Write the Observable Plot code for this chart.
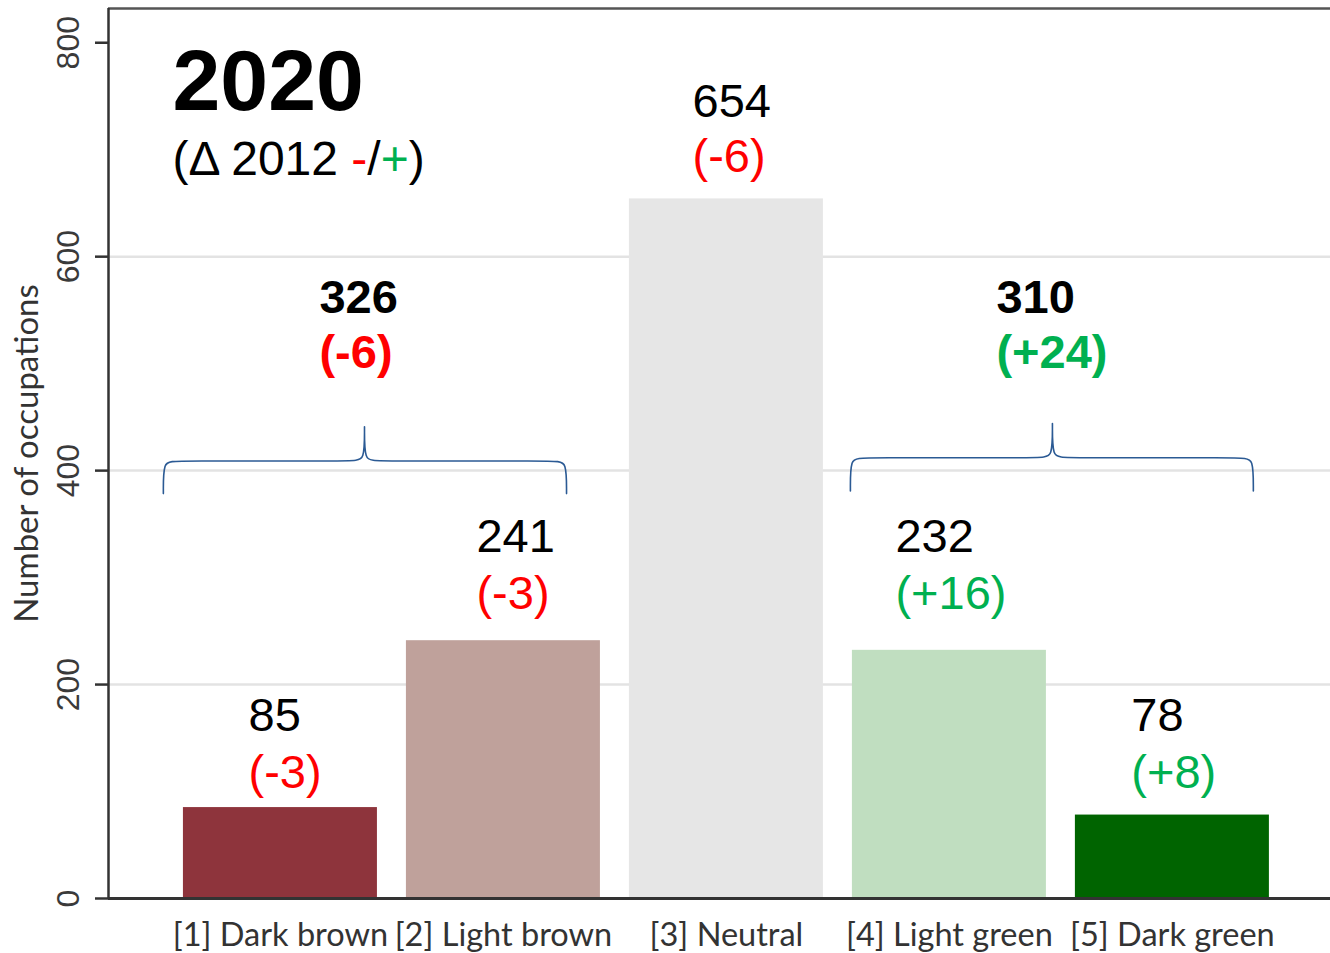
<!DOCTYPE html>
<html><head><meta charset="utf-8">
<script src="https://cdn.jsdelivr.net/npm/d3@7"></script>
<script src="https://cdn.jsdelivr.net/npm/@observablehq/plot@0.6"></script>
<style>html,body{margin:0;padding:0;background:#fff;} svg{display:block}</style>
</head><body><div id="chart"></div>
<script>
// ---- data ----
const categories = ["[1] Dark brown", "[2] Light brown", "[3] Neutral", "[4] Light green", "[5] Dark green"];
const counts = [85, 241, 654, 232, 78];
const deltas = [-3, -3, -6, 16, 8];
const barColors = ["#8e343c", "#bfa19b", "#e6e6e6", "#c0dec0", "#006400"];
const groupTotals = [326, 310];
const groupDeltas = [-6, 24];
const yTicks = [0, 200, 400, 600, 800];
const gridTicks = [200, 400, 600];
const yearTitle = "2020";
const subtitle = "(Δ 2012 -/+)";
const yLabel = "Number of occupations";

// ---- annotation layout (data units) ----
const layout = {
  xDomain: [0.229, 5.709], yDomain: [0, 832], barHalf: 0.435,
  labelX: [0.857, 1.879, 2.848, 3.758, 4.816],
  countY: [157, 323.5, 731, 323.5, 157],
  deltaY: [103, 270.6, 679.6, 270.6, 103],
  groupX: [1.175, 4.211], groupCountY: 547.8, groupDeltaY: 495.5,
  brackets: [
    {x0: 0.475, xc: 1.377, x1: 2.283, yEnd: 378.5, yH: 409, yPeak: 441},
    {x0: 3.556, xc: 4.462, x1: 5.363, yEnd: 381, yH: 412, yPeak: 444}
  ],
  titleX: 0.516, titleY: 736.7, subY: 675.9
};

const RED = "#ff0000", GREEN = "#00b050", BLUE = "#2b5a94";
const NUMFONT = "'Liberation Sans', Arial, sans-serif";
const AXFONT = "Lato, 'Open Sans', sans-serif";
const fmtDelta = d => `(${d > 0 ? "+" : ""}${d})`;
const deltaColor = d => d < 0 ? RED : GREEN;

const rows = categories.map((c, k) => ({
  i: k + 1, cat: c, value: counts[k], delta: deltas[k], color: barColors[k],
  lx: layout.labelX[k], cy: layout.countY[k], dy: layout.deltaY[k]
}));
const groups = groupTotals.map((t, k) => ({
  total: t, delta: groupDeltas[k], x: layout.groupX[k]
}));

// bracket control points
const dd = 0.045;
const bracketPts = layout.brackets.flatMap((b, k) => {
  const p = [
    [b.x0, b.yEnd], [b.x0, b.yEnd], [b.x0, b.yH], [b.x0 + dd, b.yH],
    [b.xc - dd, b.yH], [b.xc, b.yH], [b.xc, b.yPeak], [b.xc, b.yPeak], [b.xc, b.yPeak],
    [b.xc, b.yH], [b.xc + dd, b.yH], [b.x1 - dd, b.yH], [b.x1, b.yH], [b.x1, b.yEnd], [b.x1, b.yEnd]
  ];
  return p.map(([x, y]) => ({x, y, g: k}));
});

const svg = Plot.plot({
  width: 1330, height: 953,
  marginLeft: 108, marginRight: 0, marginTop: 8, marginBottom: 55,
  style: {background: "#fff", fontFamily: NUMFONT},
  x: {domain: layout.xDomain, label: null},
  y: {domain: layout.yDomain, label: null},
  marks: [
    Plot.ruleY(gridTicks, {stroke: "#e3e3e3", strokeWidth: 2.5}),
    Plot.rect(rows, {x1: d => d.i - layout.barHalf, x2: d => d.i + layout.barHalf, y1: 0, y2: "value", fill: "color"}),
    Plot.line(bracketPts, {x: "x", y: "y", z: "g", curve: "basis", stroke: BLUE, strokeWidth: 1.6}),
    Plot.ruleY([layout.yDomain[1]], {stroke: "#555", strokeWidth: 2.5}),
    Plot.ruleX([layout.xDomain[0]], {stroke: "#333", strokeWidth: 2.5}),
    Plot.ruleY([0], {stroke: "#333", strokeWidth: 3}),
    Plot.axisY({ticks: yTicks, tickSize: 13, tickFormat: () => "", stroke: "#333", strokeWidth: 2.5, label: null}),
    Plot.text(yTicks, {y: d => d, frameAnchor: "left", dx: -30, rotate: -90, textAnchor: "middle", lineAnchor: "bottom",
      text: d => String(d), fontSize: 32, fill: "#3a3a3a", fontFamily: NUMFONT}),
    Plot.text([yLabel], {frameAnchor: "left", dx: -71, rotate: -90, textAnchor: "middle", lineAnchor: "bottom",
      fontSize: 33, fill: "#333", fontFamily: AXFONT}),
    Plot.axisX({ticks: rows.map(d => d.i), tickFormat: i => categories[i - 1], tickSize: 0, tickPadding: 24,
      fontSize: 32.5, fill: "#333", fontFamily: AXFONT, label: null}),
    // value labels
    Plot.text(rows, {x: "lx", y: "cy", text: d => String(d.value), textAnchor: "start", lineAnchor: "bottom",
      fontSize: 47, fill: "#000", fontFamily: NUMFONT}),
    Plot.text(rows, {x: "lx", y: "dy", text: d => fmtDelta(d.delta), textAnchor: "start", lineAnchor: "bottom",
      fontSize: 47, fill: d => deltaColor(d.delta), fontFamily: NUMFONT}),
    // group labels
    Plot.text(groups, {x: "x", y: layout.groupCountY, text: d => String(d.total), textAnchor: "start", lineAnchor: "bottom",
      fontSize: 47, fontWeight: "bold", fill: "#000", fontFamily: NUMFONT}),
    Plot.text(groups, {x: "x", y: layout.groupDeltaY, text: d => fmtDelta(d.delta), textAnchor: "start", lineAnchor: "bottom",
      fontSize: 47, fontWeight: "bold", fill: d => deltaColor(d.delta), fontFamily: NUMFONT}),
    // title
    Plot.text([yearTitle], {x: layout.titleX, y: layout.titleY, textAnchor: "start", lineAnchor: "bottom",
      fontSize: 86, fontWeight: "bold", fill: "#000", fontFamily: NUMFONT}),
    Plot.text([subtitle], {x: layout.titleX, y: layout.subY, textAnchor: "start", lineAnchor: "bottom",
      fontSize: 48, fill: "#000", fontFamily: NUMFONT})
  ]
});

// colour the "-" and "+" of the subtitle
const ns = "http://www.w3.org/2000/svg";
const subEl = [...svg.querySelectorAll("text")].find(e => e.textContent === subtitle);
if (subEl) {
  const parts = [["(Δ 2012 ", "#000"], ["-", RED], ["/", "#000"], ["+", GREEN], [")", "#000"]];
  subEl.textContent = "";
  for (const [s, c] of parts) {
    const ts = document.createElementNS(ns, "tspan");
    ts.textContent = s;
    ts.setAttribute("fill", c);
    subEl.appendChild(ts);
  }
}
document.getElementById("chart").appendChild(svg);
</script>
</body></html>
